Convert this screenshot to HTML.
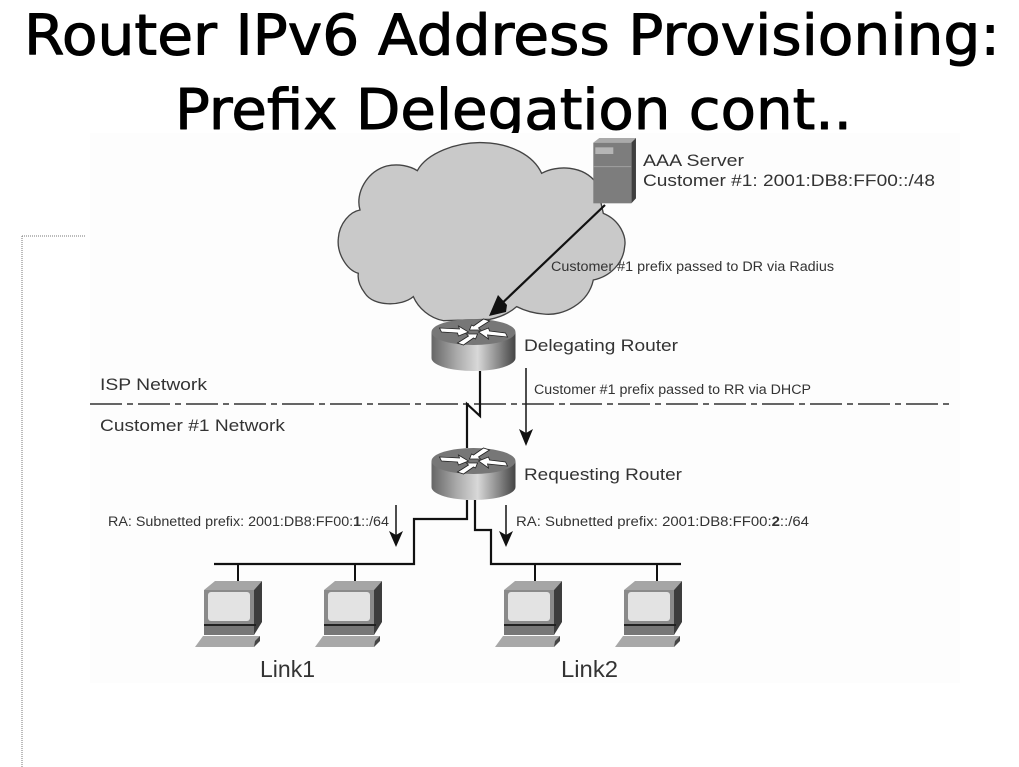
<!DOCTYPE html>
<html><head><meta charset="utf-8"><style>
html,body{margin:0;padding:0;background:#fff;width:1019px;height:767px;overflow:hidden}
svg{display:block}
.t{font-family:"Liberation Sans",sans-serif;fill:#333}
.h{font-family:"DejaVu Sans",sans-serif;fill:#000;stroke:#000;stroke-width:1;stroke-linejoin:round}
</style></head><body>
<svg width="1019" height="767" viewBox="0 0 1019 767" xmlns="http://www.w3.org/2000/svg">
<defs>
<linearGradient id="rg" x1="0" x2="1" y1="0" y2="0">
<stop offset="0" stop-color="#666"/><stop offset=".3" stop-color="#aaa"/><stop offset=".55" stop-color="#d8d8d8"/><stop offset=".8" stop-color="#888"/><stop offset="1" stop-color="#444"/>
</linearGradient>
<g id="router">
<path d="M-42 0V26A42 13 0 0 0 42 26V0Z" fill="url(#rg)"/>
<ellipse cx="0" cy="0" rx="42" ry="13" fill="#777"/>
<path d="M-34-4L-14-3-15-6-5 0-15 4-16 1-32 0ZM34 5L14 3 15 7 5 0 15-4 16-1 32 1ZM-16 11L-5 4-7 2 4 2 2 7 0 6-10 13ZM16-11L5-4 7-2-4-2-2-7 0-6 10-13Z" fill="#fff" stroke="#222" stroke-width=".8"/>
</g>
<g id="pc">
<path d="M204 590L215 581H262L254 590Z" fill="#a5a5a5"/>
<path d="M254 590L262 581V622L254 635Z" fill="#3d3d3d"/>
<rect x="204" y="590" width="50" height="45" fill="#8a8a8a"/>
<rect x="208" y="592" width="42" height="29" rx="3" fill="#e3e3e3"/>
<rect x="204" y="624" width="52" height="2" fill="#222"/>
<rect x="204" y="626" width="50" height="9" fill="#777"/>
<path d="M195 647L203 636H260L259 641 254 647Z" fill="#a8a8a8"/>
<path d="M255 641L260 636V641L254 647Z" fill="#444"/>
</g>
</defs>
<rect width="1019" height="767" fill="#fff"/>
<text class="h" x="24" y="54.5" font-size="56" textLength="976" lengthAdjust="spacingAndGlyphs">Router IPv6 Address Provisioning:</text>
<text class="h" x="175" y="129" font-size="56" textLength="677" lengthAdjust="spacingAndGlyphs">Prefix Delegation cont..</text>
<rect x="90" y="133" width="870" height="550" fill="#fdfdfd"/>
<path d="M22 236H86M22 236V767" fill="none" stroke="#777" stroke-width="1" stroke-dasharray="1 1"/>
<g transform="translate(330 130) scale(.3333)">
<path d="M262 122C290 70 380 35 460 38 540 40 610 75 635 130 680 105 760 105 800 160L820 250C870 270 890 320 884 350 880 400 840 440 790 450 775 520 700 560 640 552 610 550 580 540 560 530 535 552 510 562 480 568L340 572C300 565 265 535 250 500 215 530 130 530 105 490 90 470 82 450 85 430 50 420 20 370 25 325 28 280 60 245 90 240 75 190 110 125 170 108 205 100 240 108 262 122Z" fill="#c9c9c9" stroke="#444" stroke-width="4"/>
<path d="M790 38L808 24H918L904 38Z" fill="#aaa"/>
<path d="M904 38L918 24V205L904 220Z" fill="#3f3f3f"/>
<rect x="790" y="38" width="114" height="182" fill="#7d7d7d"/>
<rect x="796" y="52" width="54" height="20" fill="#b5b5b5"/>
<path d="M790 110H904" stroke="#a0a0a0" stroke-width="3"/>
</g>
<path d="M605 205L496 309" stroke="#111" stroke-width="2.2" fill="none"/>
<path d="M489 316L498 295 507 305 506 312Z" fill="#111"/>
<use href="#router" x="473.5" y="332"/>
<use href="#router" x="473.5" y="461"/>
<path d="M90 404H952" stroke="#333" stroke-width="1.6" stroke-dasharray="32 5 6 5"/>
<path d="M480 371V416L467 404V448" fill="none" stroke="#111" stroke-width="2.2"/>
<path d="M526 368V434" stroke="#222" stroke-width="1.6"/>
<path d="M519 429L526 433 533 429 526 446Z" fill="#111"/>
<path d="M467 500V519H414V564H214" fill="none" stroke="#111" stroke-width="2.2"/>
<path d="M475 500V530H491V564H681" fill="none" stroke="#111" stroke-width="2.2"/>
<path d="M238 564V581M355 564V581M535 564V581M657 564V581" stroke="#111" stroke-width="2"/>
<path d="M396 505V536M506 505V536" stroke="#222" stroke-width="1.6"/>
<path d="M389 531L396 535 403 531 396 547ZM499 531L506 535 513 531 506 547Z" fill="#111"/>
<use href="#pc"/>
<use href="#pc" x="120"/>
<use href="#pc" x="300"/>
<use href="#pc" x="420"/>
<g font-size="17">
<text class="t" x="643" y="166" textLength="101" lengthAdjust="spacingAndGlyphs">AAA Server</text>
<text class="t" x="643" y="186" textLength="292" lengthAdjust="spacingAndGlyphs">Customer #1: 2001:DB8:FF00::/48</text>
<text class="t" x="524" y="351" textLength="154" lengthAdjust="spacingAndGlyphs">Delegating Router</text>
<text class="t" x="524" y="480" textLength="158" lengthAdjust="spacingAndGlyphs">Requesting Router</text>
<text class="t" x="100" y="390" textLength="107" lengthAdjust="spacingAndGlyphs">ISP Network</text>
<text class="t" x="100" y="431" textLength="185" lengthAdjust="spacingAndGlyphs">Customer #1 Network</text>
</g>
<text class="t" font-size="13.5" x="551" y="271" textLength="283" lengthAdjust="spacingAndGlyphs">Customer #1 prefix passed to DR via Radius</text>
<text class="t" font-size="13.5" x="534" y="394" textLength="277" lengthAdjust="spacingAndGlyphs">Customer #1 prefix passed to RR via DHCP</text>
<text class="t" font-size="13.5" x="108" y="526" textLength="281" lengthAdjust="spacingAndGlyphs">RA: Subnetted prefix: 2001:DB8:FF00:<tspan font-weight="bold">1</tspan>::/64</text>
<text class="t" font-size="13.5" x="516" y="526" textLength="293" lengthAdjust="spacingAndGlyphs">RA: Subnetted prefix: 2001:DB8:FF00:<tspan font-weight="bold">2</tspan>::/64</text>
<text class="t" font-size="23" x="260" y="677" textLength="55" lengthAdjust="spacingAndGlyphs">Link1</text>
<text class="t" font-size="23" x="561" y="677" textLength="57" lengthAdjust="spacingAndGlyphs">Link2</text>
</svg>
</body></html>
